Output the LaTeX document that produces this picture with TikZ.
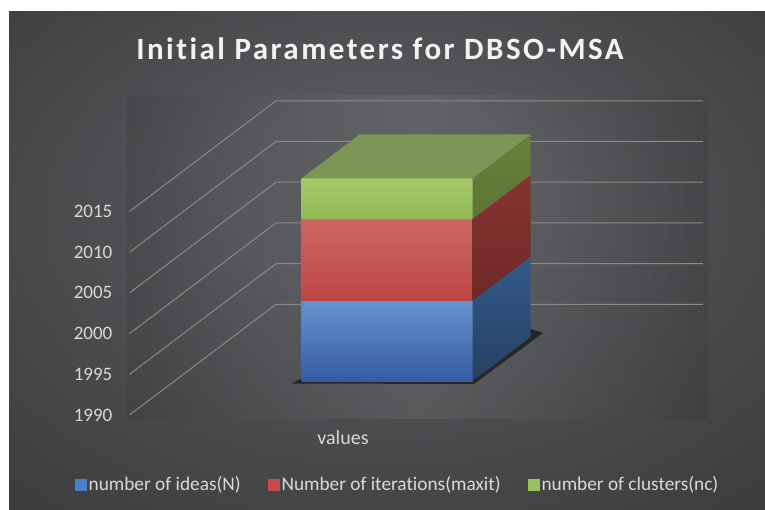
\documentclass[tikz,border=0pt]{standalone}
\usepackage{fontspec}
\setmainfont[Ligatures=NoCommon]{Carlito}
\newfontfamily\titlefont[LetterSpace=8,Ligatures=NoCommon]{Carlito}
\usetikzlibrary{positioning}
\definecolor{bgin}{HTML}{56575A}
\definecolor{bgout}{HTML}{2B2B2C}
\definecolor{gridgray}{HTML}{8A8A8A}
\definecolor{labelgray}{HTML}{D9D9D9}
\definecolor{blueface}{HTML}{4A80C6}
\definecolor{redface}{HTML}{C64B48}
\definecolor{greenface}{HTML}{9CC35A}
\pgfdeclareradialshading{chartbg}{\pgfpoint{0bp}{8bp}}{color(0bp)=(bgin); color(10bp)=(bgin); color(55bp)=(bgout)}

\begin{document}
\begin{tikzpicture}[x=1pt,y=1pt,
    gridline/.style={draw=gridgray, line width=1pt},
    ticklabel/.style={anchor=east, text=labelgray, inner sep=0pt, font=\fontsize{19}{21}\selectfont},
    legbox/.style={minimum size=11.5pt, inner sep=0pt},
    legtext/.style={text=labelgray, inner sep=0pt, font=\fontsize{19.3}{21}\selectfont}]
  \useasboundingbox (0,0) rectangle (765,-510);
  \fill[white] (0,0) rectangle (765,-510);
  \shade[shading=chartbg] (9,-12) rectangle (765,-510);
  \shade[left color=black, right color=black, middle color=white, opacity=0.07] (127,-96) rectangle (708,-418);
  \node[text=white!95!black, font=\fontsize{31}{36}\titlefont\bfseries, anchor=base] (title) at (380,-60) {Initial Parameters for DBSO-MSA};
  \foreach \v [count=\i from 0] in {1990,1995,2000,2005,2010,2015} {
    \draw[gridline] (129.5,{-415+40.7*\i}) -- (276,{-304.3+40.7*\i}) -- (703,{-304.3+40.7*\i});
    \node[ticklabel] (tick\v) at (112.5,{-415+40.7*\i}) {\v};
  }
  \fill[black, opacity=0.55] (292,-383.5) -- (474,-384) -- (543,-333) -- (531,-329) -- (472,-379) -- (300,-379) -- cycle;
  \shade[top color=blueface!85!white, bottom color=blueface!90!blue!80!black] (301.7,-381) rectangle (472.7,-300.7);
  \shade[top color=redface!85!white, bottom color=redface!95!black] (301.7,-300.7) rectangle (472.7,-219);
  \shade[top color=greenface!90!white, bottom color=greenface!95!black] (301.7,-219) rectangle (472.7,-178.3);
  \shade[top color=blueface!70!black, bottom color=blueface!50!black] (472.7,-381) -- (530.7,-337) -- (530.7,-256.7) -- (472.7,-300.7) -- cycle;
  \shade[top color=redface!68!black, bottom color=redface!55!black] (472.7,-300.7) -- (530.7,-256.7) -- (530.7,-175) -- (472.7,-219) -- cycle;
  \shade[top color=greenface!66!black, bottom color=greenface!60!black] (472.7,-219) -- (530.7,-175) -- (530.7,-134.3) -- (472.7,-178.3) -- cycle;
  \fill[greenface!72!gray!85!black] (301.7,-178.3) -- (472.7,-178.3) -- (530.7,-134.3) -- (359.7,-134.3) -- cycle;
  \node[text=labelgray, font=\fontsize{20}{22}\selectfont] (xlabel) at (343,-438) {values};
  \node[legbox, fill=blueface] (legN) at (81,-485) {};
  \node[legtext, right=1.5pt of legN] (legNtext) {number of ideas(N)};
  \node[legbox, fill=redface, right=27pt of legNtext] (legM) {};
  \node[legtext, right=1.5pt of legM] (legMtext) {Number of iterations(maxit)};
  \node[legbox, fill=greenface, right=27pt of legMtext] (legC) {};
  \node[legtext, right=1.5pt of legC] (legCtext) {number of clusters(nc)};
\end{tikzpicture}
\end{document}
